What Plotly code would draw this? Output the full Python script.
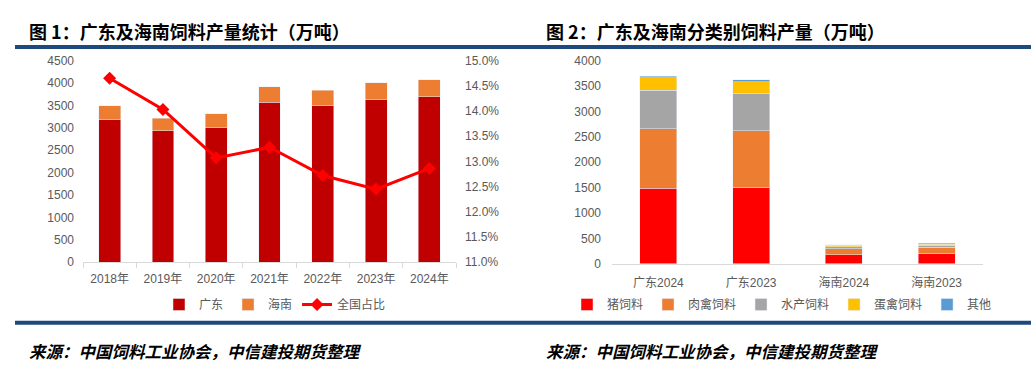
import plotly.graph_objects as go

# ---- Chart 1 data ----
years = ["2018年", "2019年", "2020年", "2021年", "2022年", "2023年", "2024年"]
guangdong = [3193, 2935, 3014, 3574, 3503, 3624, 3697]
hainan = [295, 280, 302, 338, 330, 381, 372]
share = [0.1465, 0.1403, 0.1307, 0.1328, 0.1272, 0.1245, 0.1286]

# ---- Chart 2 data ----
groups = ["广东2024", "广东2023", "海南2024", "海南2023"]
pig = [1486, 1511, 178, 203]
broiler = [1176, 1113, 119, 127]
aqua = [750, 731, 38, 38]
layer = [247, 228, 25, 19]
other = [32, 38, 13, 18]

W, H = 1035, 376
def px(x):
    return x / W
def py(y):
    return 1 - y / H

TICKFONT = dict(family="Liberation Sans, Arial, Noto Sans CJK SC", size=12, color="#595959")
CJK = "Noto Sans CJK SC, Liberation Sans, sans-serif"

fig = go.Figure()

fig.add_trace(go.Bar(x=years, y=guangdong, name="广东", marker_color="#C00000",
                     width=0.41, xaxis="x", yaxis="y", legend="legend"))
fig.add_trace(go.Bar(x=years, y=hainan, name="海南", marker_color="#ED7D31",
                     width=0.41, xaxis="x", yaxis="y", legend="legend"))
fig.add_trace(go.Scatter(x=years, y=share, name="全国占比", mode="lines+markers",
                         line=dict(color="#FF0000", width=3),
                         marker=dict(symbol="diamond", size=10, color="#FF0000"),
                         xaxis="x", yaxis="y2", legend="legend"))

series2 = [("猪饲料", pig, "#FF0000"), ("肉禽饲料", broiler, "#ED7D31"),
           ("水产饲料", aqua, "#A5A5A5"), ("蛋禽饲料", layer, "#FFC000"),
           ("其他", other, "#5B9BD5")]
for name, vals, col in series2:
    fig.add_trace(go.Bar(x=groups, y=vals, name=name, marker_color=col, width=0.4,
                         xaxis="x3", yaxis="y3", legend="legend2"))

fig.update_layout(
    width=W, height=H, autosize=False,
    margin=dict(l=0, r=0, t=0, b=0),
    paper_bgcolor="white", plot_bgcolor="white",
    barmode="stack",
    font=dict(family=CJK, color="#595959", size=12),
    xaxis=dict(domain=[px(83), px(456)], type="category", showline=True,
               linecolor="#D9D9D9", linewidth=1, ticks="outside", tickson="boundaries",
               ticklen=5, tickcolor="#D9D9D9", tickfont=TICKFONT, anchor="y",
               showgrid=False, ticklabelstandoff=5),
    yaxis=dict(domain=[py(265), py(55.7)], range=[0, 4500], dtick=500,
               showgrid=False, showline=False, zeroline=False, tickfont=TICKFONT,
               ticklabelstandoff=8, anchor="x"),
    yaxis2=dict(overlaying="y", side="right", range=[0.11, 0.15], dtick=0.005,
                tickformat=".1%", showgrid=False, zeroline=False, showline=False,
                tickfont=TICKFONT, anchor="x", ticklabelstandoff=8),
    xaxis3=dict(domain=[px(612), px(983)], type="category", showline=True,
                linecolor="#D9D9D9", linewidth=1, ticks="", tickfont=TICKFONT,
                anchor="y3", showgrid=False, ticklabelstandoff=8),
    yaxis3=dict(domain=[py(266.7), py(55.7)], range=[0, 4000], dtick=500,
                showgrid=False, showline=False, zeroline=False, tickfont=TICKFONT,
                anchor="x3", ticklabelstandoff=10),
    legend=dict(orientation="h", x=px(275), xanchor="center", y=py(309), yanchor="middle",
                font=dict(family=CJK, size=12, color="#595959"), bgcolor="rgba(0,0,0,0)",
                traceorder="normal", itemwidth=30),
    legend2=dict(orientation="h", x=px(782), xanchor="center", y=py(309), yanchor="middle",
                 font=dict(family=CJK, size=12, color="#595959"), bgcolor="rgba(0,0,0,0)",
                 traceorder="normal", itemwidth=30),
    showlegend=True,
)

# Header / footer rules
fig.add_shape(type="line", xref="paper", yref="paper", x0=px(15), x1=px(1031),
              y0=py(41.5), y1=py(41.5), line=dict(color="#1F497D", width=4))
fig.add_shape(type="line", xref="paper", yref="paper", x0=px(15), x1=px(1031),
              y0=py(328), y1=py(328), line=dict(color="#1F497D", width=4))

titles = [("图 1：广东及海南饲料产量统计（万吨）", 27), ("图 2：广东及海南分类别饲料产量（万吨）", 544)]
for t, x in titles:
    fig.add_annotation(text="<b>" + t + "</b>", xref="paper", yref="paper", x=px(x), y=py(25),
                       xanchor="left", yanchor="middle", showarrow=False,
                       font=dict(family=CJK, size=18, color="#000000"))
for x in (27, 544):
    fig.add_annotation(text="<b><i>来源：中国饲料工业协会，中信建投期货整理</i></b>", xref="paper",
                       yref="paper", x=px(x), y=py(357), xanchor="left", yanchor="middle",
                       showarrow=False, font=dict(family=CJK, size=16.5, color="#000000"))

fig.write_html("out.html", config={"displayModeBar": False},
               post_script="document.body.style.margin='0';")
